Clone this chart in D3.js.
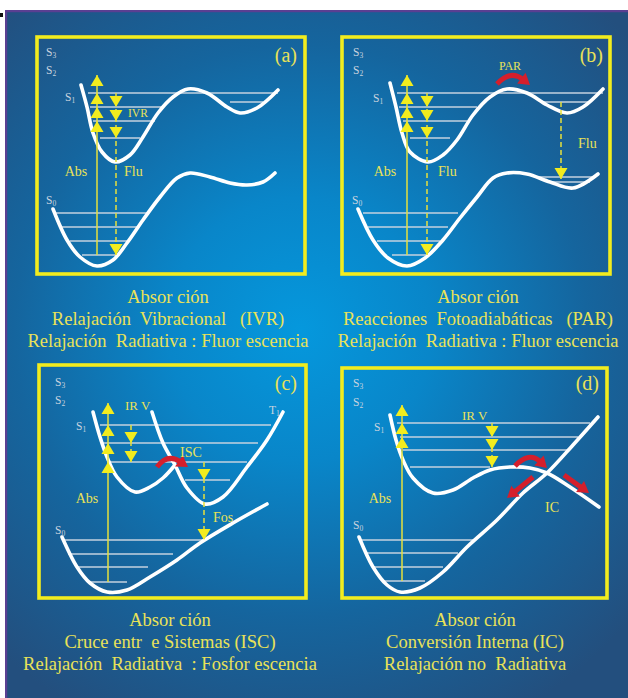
<!DOCTYPE html>
<html>
<head>
<meta charset="utf-8">
<script src="https://cdn.jsdelivr.net/npm/d3@7"></script>
<style>
  html, body { margin: 0; padding: 0; background: #fff; }
  svg { display: block; }
  text { white-space: pre; }
</style>
</head>
<body>
<svg id="chart" width="628" height="698"></svg>
<script>
// ---- Potential energy curves: [nuclear coordinate q, energy E] ----
const aS1 = [[44,189],[50,167],[56,141],[65,122],[78,112],[93,119],[106,137],[121,161],[136,177],[151,185],[170,181],[190,167],[203,161],[220,166],[241,184]];
const aS0 = [[16,65],[30,34],[43,17],[60,8],[76,14],[90,31],[106,54],[123,77],[140,96],[153,101],[173,97],[193,91],[210,89],[226,92],[238,101]];
const bS1 = [[48,191],[54,167],[60,141],[68,122],[86,112],[101,119],[115,134],[131,159],[148,177],[165,185],[185,181],[205,169],[225,161],[241,167],[261,185]];
const bS0 = [[16,65],[31,34],[46,16],[65,8],[83,16],[101,34],[118,56],[135,77],[151,96],[165,101],[185,100],[208,92],[231,86],[256,100]];
const cS1 = [[54,186],[61,161],[68,141],[78,121],[96,106],[111,111],[124,120],[136,133]];
const cT1 = [[113,186],[124,155],[136,133],[148,110],[166,94],[184,101],[208,131],[228,158],[244,186]];
const cS0 = [[23,61],[38,31],[51,15],[68,6],[88,8],[111,21],[138,38],[161,55],[194,75],[228,94]];
const dS1 = [[48,183],[54,158],[61,138],[71,120],[91,105],[111,108],[131,120],[148,128],[168,131],[188,130],[205,125],[228,111],[257,91]];
const dS0 = [[17,61],[31,31],[45,13],[58,6],[78,10],[101,26],[125,51],[155,78],[181,105],[205,125],[231,153],[256,181]];

// ---- Vibrational levels: [E, q start, q end] ----
const aLevels = [[181,51,241],[167,53,126],[153,56,118],[136,63,103],[172,193,226],[61,18,110],[47,25,100],[33,33,91],[19,45,83]];
const bLevels = [[181,55,261],[167,57,135],[153,61,125],[136,68,108],[172,201,248],[61,21,116],[47,26,106],[33,35,98],[19,50,88],[97,195,252],[92,208,248]];
const cLevels = [[173,61,232],[155,64,219],[136,68,208],[118,146,191],[58,24,166],[44,29,134],[31,38,109],[16,48,88]];
const dLevels = [[175,55,248],[161,58,236],[148,61,225],[131,68,148],[58,20,131],[45,25,116],[31,31,101],[17,40,83]];

// ---- Vertical transitions: [direction, q, E from, E to, arrow tips at E] ----
const aTransitions = [["up",60,19,199,[199,181,167,153]],["down",79,181,19,[167,153,136,19]]];
const bTransitions = [["up",65,19,199,[199,181,167,153]],["down",85,181,19,[167,153,136,19]],["down",219,172,95,[95]]];
const cTransitions = [["up",69,16,195,[195,173,155,136]],["down",92,173,136,[155,136]],["down",165,136,58,[118,58]]];
const dTransitions = [["up",60,17,193,[193,175,161]],["down",150,175,131,[161,148,131]]];

// ---- Non-radiative paths (red arrows): list of [q, E] points ----
const bPaths = [[[155,190],[170,197],[188,189]]];
const cPaths = [[[118,131],[131,138],[149,131]]];
const dPaths = [[[173,132],[188,139],[205,130]],[[191,121],[165,100]],[[222,123],[247,105]]];

// ---- Labels: [text, q, E, font size, anchor] ----
const aLabels = [["Abs",39,103,14,"middle"],["Flu",87,103,14,"start"],["IVR",91,161,11.5,"start"],["(a)",260,219,20,"end"]];
const bLabels = [["Abs",43,103,14,"middle"],["Flu",96,103,14,"start"],["Flu",236,131,14,"start"],["PAR",168,208,12,"middle"],["(b)",261,219,20,"end"]];
const cLabels = [["Abs",48,100,14,"middle"],["IR V",86,193,13,"start"],["ISC",141,146,14,"start"],["Fos",174,81,14,"start"],["(c)",258,215,20,"end"]];
const dLabels = [["Abs",38,100,14,"middle"],["IR V",120,183,13,"start"],["IC",203,91,14,"start"],["(d)",257,215,20,"end"]];

// ---- Electronic state names: [letter, index, q, E] ----
const aStates = [["S","3",9,222],["S","2",9,204],["S","1",28,177],["S","0",9,74]];
const bStates = [["S","3",11,222],["S","2",11,204],["S","1",31,176],["S","0",10,74]];
const cStates = [["S","3",16,216],["S","2",16,198],["S","1",37,172],["S","0",16,68],["T","1",230,188]];
const dStates = [["S","3",11,215],["S","2",11,196],["S","1",32,171],["S","0",11,73]];

// ---- Captions ----
const captionA = ["Absor ción","Relajación  Vibracional   (IVR)","Relajación  Radiativa : Fluor escencia"];
const captionB = ["Absor ción","Reacciones  Fotoadiabáticas   (PAR)","Relajación  Radiativa : Fluor escencia"];
const captionC = ["Absor ción","Cruce entr  e Sistemas (ISC)","Relajación  Radiativa  : Fosfor escencia"];
const captionD = ["Absor ción","Conversión Interna (IC)","Relajación no  Radiativa"];

const panels = [
  {box:{x0:37,y0:37,x1:305,y1:274}, curves:[aS1,aS0], levels:aLevels, transitions:aTransitions, paths:[], labels:aLabels, states:aStates, caption:captionA, cap:[168,303]},
  {box:{x0:342,y0:37,x1:610,y1:274}, curves:[bS1,bS0], levels:bLevels, transitions:bTransitions, paths:bPaths, labels:bLabels, states:bStates, caption:captionB, cap:[478,303]},
  {box:{x0:39,y0:365,x1:306,y1:598}, curves:[cS1,cT1,cS0], levels:cLevels, transitions:cTransitions, paths:cPaths, labels:cLabels, states:cStates, caption:captionC, cap:[170,626]},
  {box:{x0:342,y0:368,x1:607,y1:598}, curves:[dS1,dS0], levels:dLevels, transitions:dTransitions, paths:dPaths, labels:dLabels, states:dStates, caption:captionD, cap:[475,626]}
];

const YELLOW = "#f2ec1e", TEXT_YELLOW = "#e9e258", LEVEL = "#c4d2df", RED = "#d41f2c", STATE = "#c9d4df";
const SERIF = "'Liberation Serif', 'Times New Roman', Tinos, 'DejaVu Serif', serif";

const svg = d3.select("#chart").attr("font-family", SERIF);
const defs = svg.append("defs");
const grad = defs.append("radialGradient").attr("id","bg")
  .attr("gradientUnits","userSpaceOnUse").attr("cx",300).attr("cy",330).attr("r",440);
[[0,"#0598dd"],[0.3,"#0986c9"],[0.65,"#15659e"],[1,"#234f7e"]].forEach(([o,c]) =>
  grad.append("stop").attr("offset",o).attr("stop-color",c));

svg.append("rect").attr("width",628).attr("height",698).attr("fill","#fff");
svg.append("rect").attr("x",5).attr("y",10).attr("width",623).attr("height",688).attr("fill","url(#bg)");
svg.append("path").attr("d","M6.1,698V11.1H628").attr("fill","none").attr("stroke","#5a3f92").attr("stroke-width",2.2);
svg.append("rect").attr("x",0).attr("y",13).attr("width",3).attr("height",4).attr("fill","#111");

function drawPanel(p) {
  const b = p.box, w = b.x1 - b.x0, h = b.y1 - b.y0;
  const x = d3.scaleLinear().domain([0, w]).range([b.x0, b.x1]);
  const y = d3.scaleLinear().domain([0, h]).range([b.y1, b.y0]);
  const g = svg.append("g");

  g.append("rect").attr("x",b.x0).attr("y",b.y0).attr("width",w).attr("height",h)
    .attr("fill","none").attr("stroke",YELLOW).attr("stroke-width",3.6);

  // vibrational levels
  g.selectAll("line.level").data(p.levels).join("line").attr("class","level")
    .attr("x1",d=>x(d[1])).attr("x2",d=>x(d[2]))
    .attr("y1",d=>y(d[0])).attr("y2",d=>y(d[0]))
    .attr("stroke",LEVEL).attr("stroke-width",1.4);

  // potential energy curves
  const line = d3.line().x(d=>x(d[0])).y(d=>y(d[1])).curve(d3.curveCatmullRom.alpha(0.5));
  g.selectAll("path.pes").data(p.curves).join("path").attr("class","pes")
    .attr("d",line).attr("fill","none").attr("stroke","#fff")
    .attr("stroke-width",3.6).attr("stroke-linecap","round").attr("stroke-linejoin","round");

  // vertical transitions
  p.transitions.forEach(([dir,q,e0,e1,tips]) => {
    g.append("line").attr("x1",x(q)).attr("x2",x(q)).attr("y1",y(e0)).attr("y2",y(e1))
      .attr("stroke","#e6e03c").attr("stroke-width",1.5)
      .attr("stroke-dasharray",dir==="down" ? "5,3" : null);
    const s = dir==="up" ? 1 : -1;
    g.selectAll(null).data(tips).join("path")
      .attr("d",t => `M${x(q)},${y(t)}L${x(q)-6.5},${y(t)+s*11}L${x(q)+6.5},${y(t)+s*11}Z`)
      .attr("fill",YELLOW);
  });

  // red non-radiative arrows
  p.paths.forEach(pts => {
    const P = pts.map(d => [x(d[0]), y(d[1])]);
    const end = P[P.length-1];
    const ctrl = P.length === 3
      ? [2*P[1][0]-(P[0][0]+end[0])/2, 2*P[1][1]-(P[0][1]+end[1])/2]
      : P[0];
    const dx = end[0]-ctrl[0], dy = end[1]-ctrl[1], L = Math.hypot(dx,dy);
    const ux = dx/L, uy = dy/L, hl = 11, hw = 6.8;
    const base = [end[0]-ux*hl, end[1]-uy*hl];
    const stopAt = [end[0]-ux*(hl-2), end[1]-uy*(hl-2)];
    const d = P.length === 3 ? `M${P[0]}Q${ctrl} ${stopAt}` : `M${P[0]}L${stopAt}`;
    g.append("path").attr("d",d).attr("fill","none").attr("stroke",RED).attr("stroke-width",5);
    g.append("path")
      .attr("d",`M${end}L${base[0]-uy*hw},${base[1]+ux*hw}L${base[0]+uy*hw},${base[1]-ux*hw}Z`)
      .attr("fill",RED);
  });

  // yellow labels
  g.selectAll("text.lab").data(p.labels).join("text").attr("class","lab")
    .attr("x",d=>x(d[1])).attr("y",d=>y(d[2])).attr("dominant-baseline","central")
    .attr("font-family",SERIF)
    .attr("font-size",d=>d[3]).attr("text-anchor",d=>d[4]).attr("fill",TEXT_YELLOW).text(d=>d[0]);

  // state names with subscripts
  const st = g.selectAll("text.state").data(p.states).join("text").attr("class","state")
    .attr("x",d=>x(d[2])).attr("y",d=>y(d[3])).attr("dominant-baseline","central")
    .attr("font-family",SERIF).attr("font-size",11.5).attr("fill",STATE);
  st.append("tspan").text(d=>d[0]);
  st.append("tspan").attr("font-size",7.5).attr("dy",3).text(d=>d[1]);

  // caption
  g.selectAll("text.cap").data(p.caption).join("text").attr("class","cap")
    .attr("x",p.cap[0]).attr("y",(d,i)=>p.cap[1]+i*22).attr("text-anchor","middle")
    .attr("font-family",SERIF).attr("font-size",18.5).attr("fill",TEXT_YELLOW).text(d=>d);
}

panels.forEach(drawPanel);
</script>
</body>
</html>
